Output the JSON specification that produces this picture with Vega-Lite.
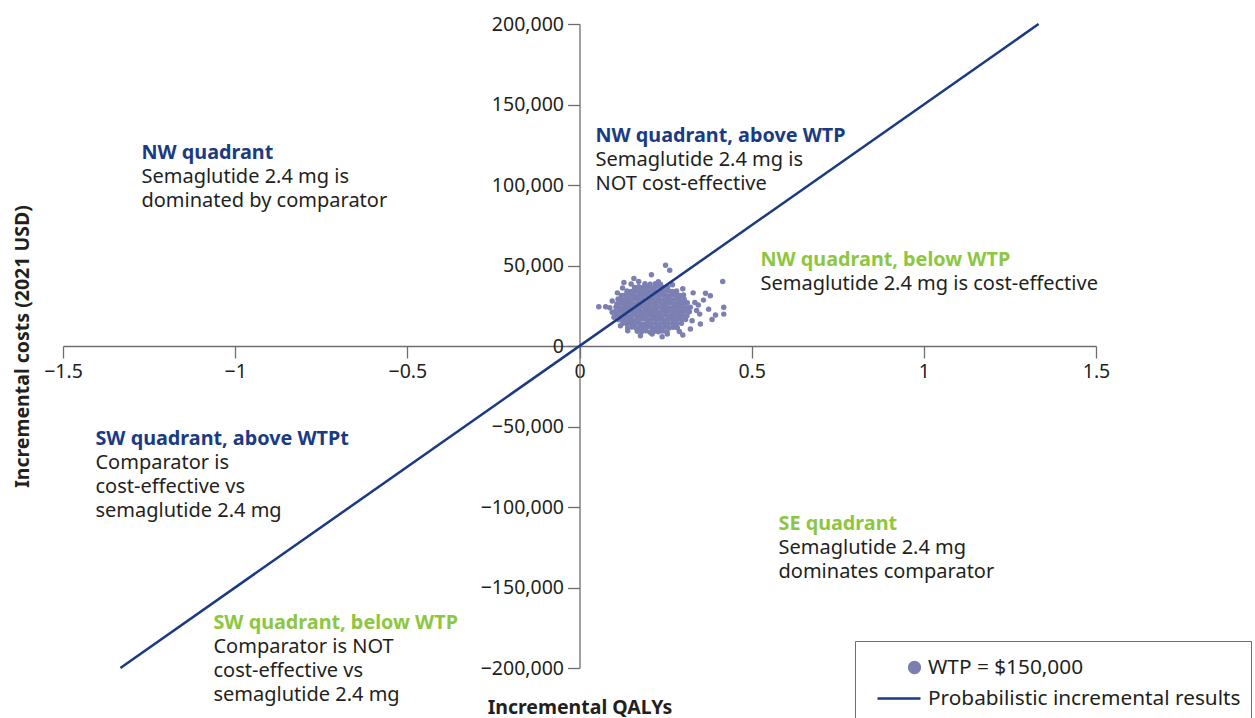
{
  "$schema": "https://vega.github.io/schema/vega-lite/v6.json",
  "width": 1033,
  "height": 644,
  "autosize": {"type": "none"},
  "padding": {"left": 63, "top": 24, "right": 159, "bottom": 50},
  "background": "white",
  "config": {
    "font": "Noto Sans",
    "view": {"stroke": null},
    "axis": {
      "grid": false,
      "domainColor": "#6d6e71",
      "tickColor": "#6d6e71",
      "domainWidth": 1.3,
      "tickWidth": 1.3,
      "tickSize": 12,
      "labelFontSize": 19.5,
      "labelColor": "#231f20",
      "labelFlush": false,
      "labelOverlap": false,
      "labelBound": false,
      "titleFontSize": 19.5,
      "titleFontWeight": "bold",
      "titleColor": "#231f20"
    },
    "legend": {
      "strokeColor": "#6d6e71",
      "fillColor": "white",
      "padding": 10,
      "symbolOffset": 24,
      "symbolSize": 900,
      "symbolStrokeWidth": 2.5,
      "symbolOpacity": 1,
      "labelFontSize": 20.8,
      "labelColor": "#231f20",
      "labelOffset": 6,
      "labelLimit": 500,
      "rowPadding": 4
    }
  },
  "datasets": {
    "cloud": [
      {"q":0.168,"c":9200},{"q":0.180,"c":8800},{"q":0.193,"c":9400},{"q":0.205,"c":8600},{"q":0.217,"c":9100},{"q":0.229,"c":8900},{"q":0.241,"c":9300},{"q":0.254,"c":8700},
      {"q":0.140,"c":11300},{"q":0.152,"c":11800},{"q":0.164,"c":11200},{"q":0.176,"c":11700},{"q":0.188,"c":11400},{"q":0.200,"c":11900},{"q":0.212,"c":11100},{"q":0.224,"c":11600},{"q":0.236,"c":11300},{"q":0.248,"c":11800},{"q":0.260,"c":11200},{"q":0.272,"c":11600},{"q":0.284,"c":11400},
      {"q":0.126,"c":14200},{"q":0.138,"c":13800},{"q":0.150,"c":14300},{"q":0.162,"c":13900},{"q":0.174,"c":14100},{"q":0.186,"c":13700},{"q":0.198,"c":14400},{"q":0.210,"c":13900},{"q":0.222,"c":14200},{"q":0.234,"c":13800},{"q":0.246,"c":14300},{"q":0.258,"c":13900},{"q":0.270,"c":14100},{"q":0.282,"c":13800},{"q":0.296,"c":14200},
      {"q":0.114,"c":16300},{"q":0.126,"c":16800},{"q":0.138,"c":16400},{"q":0.150,"c":16700},{"q":0.162,"c":16200},{"q":0.174,"c":16600},{"q":0.186,"c":16900},{"q":0.198,"c":16300},{"q":0.210,"c":16700},{"q":0.222,"c":16400},{"q":0.234,"c":16800},{"q":0.246,"c":16200},{"q":0.258,"c":16600},{"q":0.270,"c":16900},{"q":0.282,"c":16300},{"q":0.294,"c":16700},{"q":0.308,"c":16400},
      {"q":0.107,"c":19200},{"q":0.119,"c":18800},{"q":0.131,"c":19100},{"q":0.143,"c":18700},{"q":0.155,"c":19300},{"q":0.167,"c":18900},{"q":0.179,"c":19200},{"q":0.191,"c":18800},{"q":0.203,"c":19400},{"q":0.215,"c":18900},{"q":0.227,"c":19100},{"q":0.239,"c":18700},{"q":0.251,"c":19300},{"q":0.263,"c":18800},{"q":0.275,"c":19200},{"q":0.287,"c":18900},{"q":0.299,"c":19100},{"q":0.312,"c":18800},
      {"q":0.103,"c":21300},{"q":0.115,"c":21800},{"q":0.127,"c":21400},{"q":0.139,"c":21700},{"q":0.151,"c":21200},{"q":0.163,"c":21600},{"q":0.175,"c":21900},{"q":0.187,"c":21300},{"q":0.199,"c":21700},{"q":0.211,"c":21400},{"q":0.223,"c":21800},{"q":0.235,"c":21200},{"q":0.247,"c":21600},{"q":0.259,"c":21900},{"q":0.271,"c":21300},{"q":0.283,"c":21700},{"q":0.295,"c":21400},{"q":0.307,"c":21800},{"q":0.319,"c":21300},
      {"q":0.106,"c":24200},{"q":0.118,"c":23800},{"q":0.130,"c":24300},{"q":0.142,"c":23900},{"q":0.154,"c":24100},{"q":0.166,"c":23700},{"q":0.178,"c":24400},{"q":0.190,"c":23900},{"q":0.202,"c":24200},{"q":0.214,"c":23800},{"q":0.226,"c":24300},{"q":0.238,"c":23900},{"q":0.250,"c":24100},{"q":0.262,"c":23700},{"q":0.274,"c":24200},{"q":0.286,"c":23900},{"q":0.298,"c":24300},{"q":0.310,"c":23800},{"q":0.322,"c":24100},
      {"q":0.109,"c":26300},{"q":0.121,"c":26800},{"q":0.133,"c":26400},{"q":0.145,"c":26700},{"q":0.157,"c":26200},{"q":0.169,"c":26600},{"q":0.181,"c":26900},{"q":0.193,"c":26300},{"q":0.205,"c":26700},{"q":0.217,"c":26400},{"q":0.229,"c":26800},{"q":0.241,"c":26200},{"q":0.253,"c":26600},{"q":0.265,"c":26900},{"q":0.277,"c":26300},{"q":0.289,"c":26700},{"q":0.301,"c":26400},{"q":0.313,"c":26800},
      {"q":0.112,"c":29200},{"q":0.124,"c":28800},{"q":0.136,"c":29100},{"q":0.148,"c":28700},{"q":0.160,"c":29300},{"q":0.172,"c":28900},{"q":0.184,"c":29200},{"q":0.196,"c":28800},{"q":0.208,"c":29400},{"q":0.220,"c":28900},{"q":0.232,"c":29100},{"q":0.244,"c":28700},{"q":0.256,"c":29300},{"q":0.268,"c":28800},{"q":0.280,"c":29200},{"q":0.292,"c":28900},{"q":0.304,"c":29100},
      {"q":0.122,"c":31300},{"q":0.134,"c":31800},{"q":0.146,"c":31400},{"q":0.158,"c":31700},{"q":0.170,"c":31200},{"q":0.182,"c":31600},{"q":0.194,"c":31900},{"q":0.206,"c":31300},{"q":0.218,"c":31700},{"q":0.230,"c":31400},{"q":0.242,"c":31800},{"q":0.254,"c":31200},{"q":0.266,"c":31600},{"q":0.278,"c":31900},{"q":0.290,"c":31300},{"q":0.302,"c":31700},
      {"q":0.138,"c":34200},{"q":0.150,"c":33800},{"q":0.162,"c":34300},{"q":0.174,"c":33900},{"q":0.186,"c":34100},{"q":0.198,"c":33700},{"q":0.210,"c":34400},{"q":0.222,"c":33900},{"q":0.234,"c":34200},{"q":0.246,"c":33800},{"q":0.258,"c":34300},{"q":0.270,"c":33900},{"q":0.282,"c":34100},
      {"q":0.160,"c":36300},{"q":0.172,"c":36800},{"q":0.184,"c":36400},{"q":0.196,"c":36700},{"q":0.208,"c":36200},{"q":0.220,"c":36600},{"q":0.232,"c":36900},{"q":0.244,"c":36300},{"q":0.256,"c":36700},
      {"q":0.190,"c":38600},{"q":0.205,"c":38300},{"q":0.220,"c":38700},{"q":0.235,"c":38400},
      {"q":0.250,"c":50200},{"q":0.262,"c":47100},{"q":0.209,"c":44200},{"q":0.158,"c":42000},{"q":0.416,"c":40100},{"q":0.129,"c":39500},{"q":0.172,"c":40100},{"q":0.229,"c":39900},{"q":0.056,"c":24400},{"q":0.076,"c":24400},{"q":0.088,"c":23700},{"q":0.366,"c":32700},{"q":0.380,"c":31200},{"q":0.419,"c":24000},{"q":0.419,"c":19800},{"q":0.395,"c":19200},{"q":0.375,"c":22900},{"q":0.351,"c":13600},{"q":0.327,"c":15700},{"q":0.349,"c":19800},{"q":0.322,"c":10500},{"q":0.177,"c":6400},{"q":0.211,"c":7400},{"q":0.255,"c":7400},{"q":0.119,"c":12600},{"q":0.100,"c":17800},{"q":0.335,"c":27000},{"q":0.340,"c":22000},{"q":0.345,"c":25500},{"q":0.300,"c":35500},{"q":0.290,"c":9000},{"q":0.140,"c":9500},{"q":0.095,"c":28000},{"q":0.360,"c":28500},{"q":0.330,"c":33000},{"q":0.110,"c":33000},{"q":0.150,"c":38500},{"q":0.270,"c":38000},{"q":0.385,"c":16500},{"q":0.240,"c":5800},{"q":0.300,"c":6800},{"q":0.095,"c":21000},{"q":0.125,"c":36000}
    ],
    "wtpline": [
      {"q": -1.3333, "c": -200000},
      {"q": 1.3333, "c": 200000}
    ],
    "titles": [
      {"q": -1.2721, "c": 116270, "label": "NW quadrant", "col": "#1b3a84"},
      {"q": 0.0465, "c": 126510, "label": "NW quadrant, above WTP", "col": "#1b3a84"},
      {"q": 0.5257, "c": 49610, "label": "NW quadrant, below WTP", "col": "#8dc63f"},
      {"q": -1.4057, "c": -61400, "label": "SW quadrant, above WTPt", "col": "#1b3a84"},
      {"q": 0.578, "c": -114110, "label": "SE quadrant", "col": "#8dc63f"},
      {"q": -1.063, "c": -175500, "label": "SW quadrant, below WTP", "col": "#8dc63f"}
    ],
    "bodies": [
      {"q": -1.2721, "c": 101090, "label": "Semaglutide 2.4 mg is\ndominated by comparator"},
      {"q": 0.0465, "c": 111630, "label": "Semaglutide 2.4 mg is\nNOT cost-effective"},
      {"q": 0.5257, "c": 34730, "label": "Semaglutide 2.4 mg is cost-effective"},
      {"q": -1.4057, "c": -76280, "label": "Comparator is\ncost-effective vs\nsemaglutide 2.4 mg"},
      {"q": 0.578, "c": -128990, "label": "Semaglutide 2.4 mg\ndominates comparator"},
      {"q": -1.063, "c": -190390, "label": "Comparator is NOT\ncost-effective vs\nsemaglutide 2.4 mg"}
    ]
  },
  "encoding": {
    "x": {
      "field": "q",
      "type": "quantitative",
      "scale": {"domain": [-1.5, 1.5], "nice": false, "zero": false},
      "axis": {
        "orient": "bottom",
        "offset": -322,
        "values": [-1.5, -1, -0.5, 0, 0.5, 1, 1.5],
        "format": "~g",
        "labelPadding": 4,
        "title": "Incremental QALYs",
        "titleX": 516.5,
        "titleY": 367,
        "titleAlign": "center",
        "titleBaseline": "alphabetic"
      }
    },
    "y": {
      "field": "c",
      "type": "quantitative",
      "scale": {"domain": [-200000, 200000], "nice": false, "zero": false},
      "axis": {
        "orient": "left",
        "offset": -516.5,
        "values": [-200000, -150000, -100000, -50000, 0, 50000, 100000, 150000, 200000],
        "format": ",.0f",
        "labelPadding": 4,
        "title": "Incremental costs (2021 USD)",
        "titleAngle": 270,
        "titleX": -551,
        "titleY": 322,
        "titleAlign": "center",
        "titleBaseline": "alphabetic"
      }
    }
  },
  "layer": [
    {
      "data": {"name": "cloud"},
      "mark": {"type": "point", "filled": true, "size": 30, "opacity": 1},
      "encoding": {
        "color": {
          "datum": "WTP = $150,000",
          "type": "nominal",
          "scale": {
            "domain": ["WTP = $150,000", "Probabilistic incremental results"],
            "range": ["#7b7fb1", "#1b3a84"]
          },
          "legend": {"title": null, "orient": "none", "legendX": 792, "legendY": 617}
        }
      }
    },
    {
      "data": {"name": "wtpline"},
      "mark": {"type": "line", "strokeWidth": 2.5},
      "encoding": {
        "color": {"datum": "Probabilistic incremental results", "type": "nominal", "legend": {"title": null, "orient": "none", "legendX": 792, "legendY": 617}}
      }
    },
    {
      "data": {"name": "wtpline"},
      "mark": {"type": "point", "filled": false, "opacity": 0},
      "encoding": {
        "color": {"datum": "WTP = $150,000", "type": "nominal", "legend": {"title": null, "orient": "none", "legendX": 792, "legendY": 617}},
        "shape": {
          "datum": "WTP = $150,000",
          "type": "nominal",
          "scale": {
            "domain": ["WTP = $150,000", "Probabilistic incremental results"],
            "range": ["M 0.24,0 A 0.36,0.36 0 1,1 0.96,0 A 0.36,0.36 0 1,1 0.24,0 Z", "M -1.867,0 L 1,0"]
          },
          "legend": {"title": null, "orient": "none", "legendX": 792, "legendY": 617}
        }
      }
    },
    {
      "data": {"name": "titles"},
      "mark": {"type": "text", "align": "left", "baseline": "alphabetic", "fontSize": 19.8, "fontWeight": "bold"},
      "encoding": {
        "text": {"field": "label"},
        "color": {"field": "col", "type": "nominal", "scale": null, "legend": null}
      }
    },
    {
      "data": {"name": "bodies"},
      "mark": {"type": "text", "align": "left", "baseline": "alphabetic", "fontSize": 20, "lineBreak": "\n", "lineHeight": 24, "color": "#231f20"},
      "encoding": {
        "text": {"field": "label"}
      }
    }
  ]
}
